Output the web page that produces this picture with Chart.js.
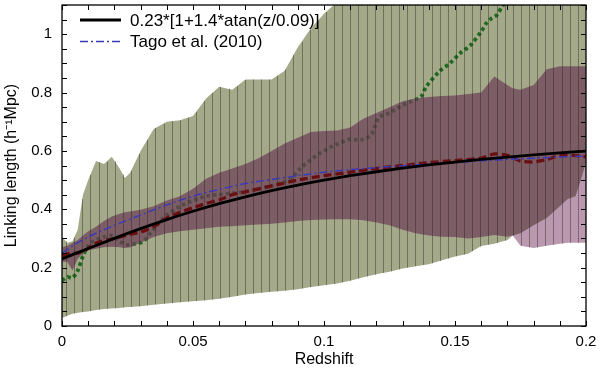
<!DOCTYPE html>
<html>
<head>
<meta charset="utf-8">
<script src="https://cdn.jsdelivr.net/npm/chart.js@4.4.0/dist/chart.umd.min.js"></script>
<style>
  html, body { margin: 0; padding: 0; background: #fff; }
</style>
</head>
<body>
<canvas id="linkingChart" width="600" height="372"></canvas>
<script>
// shaded bands (redshift grid shared by all four edges)
const bandZ = [0, 0.002, 0.004, 0.006, 0.008, 0.010, 0.013, 0.016, 0.019, 0.022, 0.024, 0.026,
  0.030, 0.035, 0.040, 0.045, 0.050, 0.055, 0.060, 0.065, 0.070, 0.075, 0.080, 0.085, 0.090,
  0.095, 0.100, 0.105, 0.110, 0.115, 0.120, 0.125, 0.130, 0.135, 0.140, 0.145, 0.150, 0.155,
  0.160, 0.165, 0.170, 0.172, 0.175, 0.180, 0.185, 0.190, 0.193, 0.196, 0.198, 0.200];
const greenHigh = [0.306, 0.285, 0.29, 0.33, 0.45, 0.50, 0.565, 0.555, 0.58, 0.54, 0.507, 0.525,
  0.60, 0.675, 0.70, 0.705, 0.72, 0.78, 0.82, 0.81, 0.845, 0.845, 0.845, 0.875, 0.955,
  1.02, 1.07, 1.11, 1.2, 1.2, 1.2, 1.2, 1.2, 1.2, 1.2, 1.2, 1.2, 1.2,
  1.2, 1.2, 1.2, 1.2, 1.2, 1.2, 1.2, 1.2, 1.2, 1.2, 1.2, 1.2];
const greenLow = [0.027, 0.035, 0.042, 0.045, 0.048, 0.05, 0.055, 0.058, 0.06, 0.062, 0.064, 0.065,
  0.068, 0.073, 0.077, 0.081, 0.085, 0.088, 0.093, 0.10, 0.108, 0.113, 0.117, 0.121, 0.126,
  0.134, 0.14, 0.146, 0.155, 0.167, 0.177, 0.186, 0.197, 0.205, 0.212, 0.225, 0.238, 0.248,
  0.274, 0.282, 0.295, 0.31, 0.318, 0.345, 0.37, 0.41, 0.435, 0.445, 0.50, 0.56];
const mauveHigh = [0.27, 0.275, 0.285, 0.295, 0.31, 0.325, 0.34, 0.36, 0.375, 0.385, 0.39, 0.392,
  0.398, 0.41, 0.43, 0.445, 0.47, 0.505, 0.525, 0.54, 0.555, 0.575, 0.60, 0.625, 0.645,
  0.665, 0.668, 0.67, 0.68, 0.71, 0.73, 0.75, 0.77, 0.78, 0.785, 0.788, 0.79, 0.795,
  0.80, 0.855, 0.826, 0.815, 0.81, 0.826, 0.88, 0.89, 0.89, 0.89, 0.89, 0.89];
const mauveLow = [0.22, 0.22, 0.19, 0.23, 0.25, 0.26, 0.265, 0.27, 0.272, 0.27, 0.267, 0.27,
  0.285, 0.305, 0.318, 0.325, 0.33, 0.335, 0.34, 0.342, 0.345, 0.348, 0.35, 0.355, 0.36,
  0.363, 0.365, 0.366, 0.366, 0.362, 0.355, 0.345, 0.33, 0.318, 0.31, 0.306, 0.305, 0.30,
  0.305, 0.312, 0.306, 0.31, 0.275, 0.267, 0.275, 0.282, 0.285, 0.285, 0.285, 0.285];

// fit 0.23*[1+1.4*atan(z/0.09)]
const fitZ = [0, 0.01, 0.02, 0.03, 0.04, 0.05, 0.06, 0.07, 0.08, 0.09, 0.10,
  0.11, 0.12, 0.13, 0.14, 0.15, 0.16, 0.17, 0.18, 0.19, 0.20];
const fitLinking = [0.2300, 0.2656, 0.3004, 0.3336, 0.3647, 0.3933, 0.4193, 0.4428, 0.4640, 0.4829, 0.4998,
  0.5150, 0.5286, 0.5408, 0.5518, 0.5618, 0.5708, 0.5790, 0.5865, 0.5933, 0.5996];

// Tago et al. (2010)
const tagoZ = [0, 0.005, 0.01, 0.02, 0.03, 0.04, 0.05, 0.06, 0.07, 0.08, 0.09, 0.10, 0.12, 0.14, 0.16, 0.18, 0.20];
const tagoLinking = [0.25, 0.28, 0.305, 0.345, 0.38, 0.415, 0.445, 0.468, 0.488, 0.502, 0.515, 0.527, 0.543, 0.555, 0.566, 0.575, 0.583];

// dark red dashed curve
const redZ = [0, 0.003, 0.006, 0.009, 0.012, 0.015, 0.02, 0.025, 0.03, 0.035, 0.04, 0.045, 0.05, 0.055,
  0.06, 0.065, 0.07, 0.075, 0.08, 0.09, 0.10, 0.11, 0.12, 0.13, 0.14, 0.15, 0.16, 0.165, 0.17,
  0.175, 0.18, 0.185, 0.19, 0.195, 0.2];
const redLinking = [0.24, 0.25, 0.25, 0.26, 0.28, 0.29, 0.30, 0.312, 0.322, 0.34, 0.37, 0.39, 0.405, 0.42,
  0.432, 0.45, 0.46, 0.47, 0.48, 0.50, 0.515, 0.527, 0.54, 0.55, 0.56, 0.567, 0.575, 0.59, 0.585,
  0.565, 0.562, 0.57, 0.585, 0.585, 0.58];

// green dotted curve
const dotZ = [0, 0.002, 0.004, 0.006, 0.008, 0.010, 0.013, 0.016, 0.019, 0.022, 0.025, 0.028, 0.031,
  0.034, 0.037, 0.040, 0.045, 0.050, 0.055, 0.060, 0.065, 0.070, 0.075, 0.080, 0.085, 0.088, 0.091,
  0.095, 0.099, 0.103, 0.106, 0.110, 0.114, 0.118, 0.121, 0.125, 0.129, 0.133, 0.137, 0.139, 0.144,
  0.148, 0.152, 0.156, 0.160, 0.162, 0.164, 0.166, 0.168, 0.171];
const dotLinking = [0.155, 0.168, 0.165, 0.19, 0.24, 0.275, 0.295, 0.305, 0.31, 0.29, 0.278, 0.282, 0.29,
  0.32, 0.355, 0.38, 0.41, 0.43, 0.445, 0.45, 0.455, 0.46, 0.47, 0.48, 0.495, 0.51, 0.54,
  0.57, 0.595, 0.615, 0.627, 0.64, 0.638, 0.655, 0.715, 0.73, 0.752, 0.769, 0.786, 0.82, 0.872,
  0.90, 0.935, 0.963, 1.009, 1.038, 1.055, 1.066, 1.095, 1.13];

const xTicksMajor = [0, 0.05, 0.1, 0.15, 0.2];
const yTicksMajor = [0, 0.2, 0.4, 0.6, 0.8, 1];

const pts = (xs, ys) => xs.map((x, i) => ({ x: x, y: ys[i] }));
const overlapLow = bandZ.map((z, i) => Math.max(greenLow[i], mauveLow[i]));
const overlapHigh = bandZ.map((z, i) => Math.min(greenHigh[i], mauveHigh[i]));

function interp(xs, ys, x) {
  for (let i = 1; i < xs.length; i++) {
    if (x <= xs[i]) {
      const t = (x - xs[i - 1]) / (xs[i] - xs[i - 1]);
      return ys[i - 1] + t * (ys[i] - ys[i - 1]);
    }
  }
  return ys[ys.length - 1];
}
const isMajor = (v, list) => list.some(m => Math.abs(m - v) < 1e-6);

const edge = (data, order) => ({
  data: data, borderWidth: 0, borderColor: 'rgba(0,0,0,0)', fill: false, order: order, tension: 0
});

Chart.defaults.font.family = '"Liberation Sans", Arial, Helvetica, sans-serif';
Chart.defaults.font.size = 15;
Chart.defaults.color = '#000';

// thin dark seams drawn across the shaded bands
const seamStep = 0.0031;
const bandSeams = {
  id: 'bandSeams',
  afterDatasetDraw(chart, args) {
    if (args.index !== 6) return;
    const { ctx, chartArea, scales: { x, y } } = chart;
    ctx.save();
    ctx.beginPath();
    ctx.rect(chartArea.left, chartArea.top, chartArea.width, chartArea.height);
    ctx.clip();
    ctx.strokeStyle = 'rgba(40,32,28,0.42)';
    ctx.lineWidth = 1;
    for (let z = seamStep / 2; z < 0.2; z += seamStep) {
      const lo = Math.min(interp(bandZ, greenLow, z), interp(bandZ, mauveLow, z));
      const hi = Math.max(interp(bandZ, greenHigh, z), interp(bandZ, mauveHigh, z));
      const px = Math.round(x.getPixelForValue(z)) + 0.5;
      ctx.beginPath();
      ctx.moveTo(px, y.getPixelForValue(lo));
      ctx.lineTo(px, y.getPixelForValue(hi));
      ctx.stroke();
    }
    ctx.restore();
  }
};

// frame with inward ticks on all four sides
const frameTicks = {
  id: 'frameTicks',
  afterDraw(chart) {
    const { ctx, chartArea: a, scales: { x, y } } = chart;
    ctx.save();
    ctx.strokeStyle = '#000';
    ctx.lineWidth = 1.3;
    ctx.strokeRect(a.left, a.top, a.width, a.height);
    ctx.lineWidth = 1;
    ctx.beginPath();
    x.ticks.forEach(t => {
      const px = Math.round(x.getPixelForValue(t.value)) + 0.5;
      ctx.moveTo(px, a.bottom); ctx.lineTo(px, a.bottom - 5);
      ctx.moveTo(px, a.top); ctx.lineTo(px, a.top + 5);
    });
    y.ticks.forEach(t => {
      const py = Math.round(y.getPixelForValue(t.value)) + 0.5;
      ctx.moveTo(a.left, py); ctx.lineTo(a.left + 5, py);
      ctx.moveTo(a.right, py); ctx.lineTo(a.right - 5, py);
    });
    ctx.stroke();
    ctx.restore();
  }
};

// legend in the upper-left corner of the plot
const legendEntries = [
  { text: '0.23*[1+1.4*atan(z/0.09)]', index: 9 },
  { text: 'Tago et al. (2010)', index: 8 }
];
const cornerLegend = {
  id: 'cornerLegend',
  afterDatasetsDraw(chart) {
    const { ctx, chartArea: a } = chart;
    ctx.save();
    legendEntries.forEach((e, i) => {
      const ds = chart.data.datasets[e.index];
      const yy = a.top + 15 + i * 21.5;
      ctx.strokeStyle = ds.borderColor;
      ctx.lineWidth = ds.borderWidth;
      ctx.setLineDash(ds.borderDash || []);
      ctx.beginPath();
      ctx.moveTo(a.left + 18, yy);
      ctx.lineTo(a.left + 59, yy);
      ctx.stroke();
      ctx.setLineDash([]);
      ctx.fillStyle = '#000';
      ctx.font = '17px "Liberation Sans", Arial, Helvetica, sans-serif';
      ctx.textBaseline = 'middle';
      ctx.fillText(e.text, a.left + 68, yy + 1);
    });
    ctx.restore();
  }
};

new Chart(document.getElementById('linkingChart').getContext('2d'), {
  type: 'line',
  data: {
    datasets: [
      edge(pts(bandZ, mauveLow), 30),
      Object.assign(edge(pts(bandZ, mauveHigh), 29), { fill: 0, backgroundColor: '#ba98b0' }),
      edge(pts(bandZ, greenLow), 30),
      Object.assign(edge(pts(bandZ, greenHigh), 28), { fill: 2, backgroundColor: '#a4a98a' }),
      {
        data: pts(dotZ, dotLinking), borderColor: '#1f6a1f', borderWidth: 3.8,
        borderDash: [3.5, 3], tension: 0.3, fill: false, order: 27
      },
      edge(pts(bandZ, overlapLow), 30),
      Object.assign(edge(pts(bandZ, overlapHigh), 26), { fill: 5, backgroundColor: 'rgba(108,64,89,0.72)' }),
      {
        data: pts(redZ, redLinking), borderColor: '#6a1010', borderWidth: 3.3,
        borderDash: [8, 4], tension: 0.2, fill: false, order: 3
      },
      {
        data: pts(tagoZ, tagoLinking), borderColor: '#3a3ab8', borderWidth: 1.5,
        borderDash: [8, 3, 2, 3], tension: 0.4, cubicInterpolationMode: 'monotone', fill: false, order: 2
      },
      {
        data: pts(fitZ, fitLinking), borderColor: '#000', borderWidth: 2.8,
        cubicInterpolationMode: 'monotone', fill: false, order: 1
      }
    ]
  },
  options: {
    responsive: false,
    animation: false,
    events: [],
    layout: { padding: { top: 5, right: 14, left: 0, bottom: 0 } },
    elements: { point: { radius: 0 } },
    plugins: { legend: { display: false }, tooltip: { enabled: false } },
    scales: {
      x: {
        type: 'linear', min: 0, max: 0.2,
        grid: { display: false, drawTicks: false },
        border: { display: false },
        ticks: {
          stepSize: 0.01, autoSkip: false, maxRotation: 0, padding: 7,
          callback: v => isMajor(v, xTicksMajor) ? String(+v.toFixed(2)) : ''
        },
        title: { display: true, text: 'Redshift', font: { size: 16 }, padding: { top: 0, bottom: 3 } },
        afterFit: s => { s.height = 46; s.paddingLeft = 0; s.paddingRight = 0; }
      },
      y: {
        min: 0, max: 1.1,
        grid: { display: false, drawTicks: false },
        border: { display: false },
        ticks: {
          stepSize: 0.05, autoSkip: false, padding: 10,
          callback: v => isMajor(v, yTicksMajor) ? String(+v.toFixed(2)) : ''
        },
        title: { display: true, text: 'Linking length (h\u207B\u00B9Mpc)', font: { size: 16 }, padding: { top: 2, bottom: 0 } },
        afterFit: s => { s.width = 62; s.paddingTop = 0; s.paddingBottom = 0; }
      }
    }
  },
  plugins: [bandSeams, frameTicks, cornerLegend]
});
</script>
</body>
</html>
